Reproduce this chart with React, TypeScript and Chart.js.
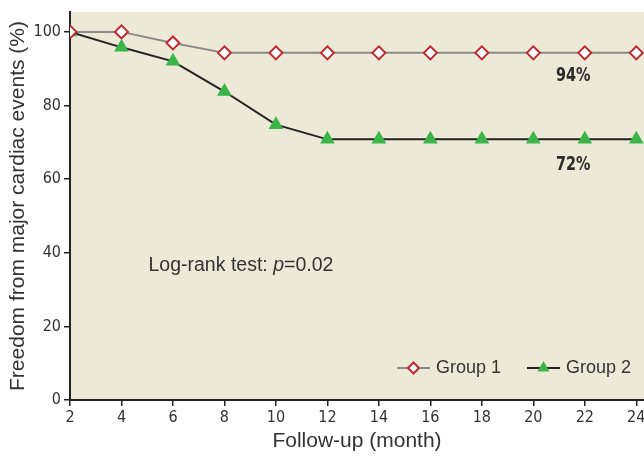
import React, { useEffect, useRef } from "react";
import { Chart, registerables } from "chart.js";

Chart.register(...registerables);

const months = [2, 4, 6, 8, 10, 12, 14, 16, 18, 20, 22, 24];
const group1 = [100, 100, 97, 94.3, 94.3, 94.3, 94.3, 94.3, 94.3, 94.3, 94.3, 94.3];
const group2 = [100, 95.8, 92, 83.8, 74.8, 70.8, 70.8, 70.8, 70.8, 70.8, 70.8, 70.8];
const yTicks = [0, 20, 40, 60, 80, 100];
const seriesNames = ["Group 1", "Group 2"];
const endLabels = [
  { text: "94%", x: 21.55, y: 88 },
  { text: "72%", x: 21.55, y: 63.8 },
];
const testLabel = { pre: "Log-rank test: ", italic: "p", post: "=0.02", x: 5.05, y: 36.5 };

const BG = "#ECE9D6";
const TEXT = "#333333";
const SANS = "'Liberation Sans', Arial, sans-serif";
const NARROW = "'DejaVu Sans Condensed', 'Liberation Sans Narrow', sans-serif";

const customPlugin = {
  id: "custom",
  beforeDraw(chart: any) {
    const { ctx, chartArea } = chart;
    ctx.save();
    ctx.fillStyle = BG;
    ctx.fillRect(chartArea.left, chartArea.top, chartArea.right - chartArea.left, chartArea.bottom - chartArea.top);
    ctx.restore();
  },
  afterDraw(chart: any) {
    const { ctx } = chart;
    const xs = chart.scales.x;
    const ys = chart.scales.y;
    ctx.save();
    ctx.fillStyle = "#2a2a2a";
    ctx.font = `bold 20px ${NARROW}`;
    ctx.textAlign = "center";
    ctx.textBaseline = "middle";
    endLabels.forEach((l) => {
      const x = xs.getPixelForValue(l.x);
      const y = ys.getPixelForValue(l.y);
      ctx.save();
      ctx.translate(x, y);
      ctx.scale(0.8, 1);
      ctx.fillText(l.text, 0, 0);
      ctx.restore();
    });
    ctx.fillStyle = TEXT;
    let px = xs.getPixelForValue(testLabel.x);
    const py = ys.getPixelForValue(testLabel.y);
    ctx.textAlign = "left";
    ctx.font = `19.5px ${SANS}`;
    ctx.fillText(testLabel.pre, px, py);
    px += ctx.measureText(testLabel.pre).width;
    ctx.font = `italic 19.5px ${SANS}`;
    ctx.fillText(testLabel.italic, px, py);
    px += ctx.measureText(testLabel.italic).width;
    ctx.font = `19.5px ${SANS}`;
    ctx.fillText(testLabel.post, px, py);

    // legend
    const ly = chart.chartArea.bottom - 32;
    let lx = chart.chartArea.right - 247;
    chart.data.datasets.forEach((ds: any, i: number) => {
      ctx.strokeStyle = ds.borderColor;
      ctx.lineWidth = 2;
      ctx.beginPath();
      ctx.moveTo(lx, ly);
      ctx.lineTo(lx + 33, ly);
      ctx.stroke();
      ctx.fillStyle = ds.pointBackgroundColor;
      ctx.strokeStyle = ds.pointBorderColor;
      ctx.lineWidth = ds.pointBorderWidth;
      const cx = lx + 16.5;
      const r = i === 0 ? 5.5 : 7;
      ctx.beginPath();
      if (ds.pointStyle === "rectRot") {
        ctx.moveTo(cx - r, ly);
        ctx.lineTo(cx, ly - r);
        ctx.lineTo(cx + r, ly);
        ctx.lineTo(cx, ly + r);
        ctx.closePath();
        ctx.fill();
        ctx.stroke();
      } else {
        ctx.moveTo(cx, ly - r);
        ctx.lineTo(cx + r * 0.866, ly + r / 2);
        ctx.lineTo(cx - r * 0.866, ly + r / 2);
        ctx.closePath();
        ctx.fill();
      }
      ctx.fillStyle = TEXT;
      ctx.font = `18px ${SANS}`;
      ctx.textAlign = "left";
      ctx.textBaseline = "middle";
      ctx.fillText(seriesNames[i], lx + 39, ly);
      lx += 130;
    });
    ctx.restore();
  },
};

export default function App() {
  const ref = useRef<HTMLCanvasElement>(null);
  useEffect(() => {
    document.body.style.margin = "0";
    const chart = new Chart(ref.current!, {
      type: "line",
      data: {
        datasets: [
          {
            label: seriesNames[0],
            data: months.map((m, i) => ({ x: m, y: group1[i] })),
            borderColor: "#8a8a8a",
            borderWidth: 2,
            pointStyle: "rectRot",
            pointRadius: 6.5,
            pointBackgroundColor: "#ffffff",
            pointBorderColor: "#C0262D",
            pointBorderWidth: 2,
          } as any,
          {
            label: seriesNames[1],
            data: months.map((m, i) => ({ x: m, y: group2[i] })),
            borderColor: "#222222",
            borderWidth: 2,
            pointStyle: "triangle",
            pointRadius: 8.5,
            pointBackgroundColor: "#3BB54A",
            pointBorderColor: "#3BB54A",
            pointBorderWidth: 0,
          } as any,
        ],
      },
      options: {
        animation: false,
        responsive: false,
        layout: { autoPadding: false, padding: { top: 12, right: 0, left: 0, bottom: 0 } },
        plugins: { legend: { display: false }, tooltip: { enabled: false } },
        scales: {
          x: {
            type: "linear",
            min: 2,
            max: 24.3,
            afterBuildTicks: (s: any) => {
              s.ticks = months.map((m) => ({ value: m }));
            },
            afterFit: (s: any) => {
              s.height = 56;
              s.paddingLeft = 0;
              s.paddingRight = 0;
            },
            grid: { drawOnChartArea: false, tickLength: 6, color: "#222", lineWidth: 1.5 },
            border: { color: "#222", width: 2 },
            ticks: {
              autoSkip: false,
              maxRotation: 0,
              color: TEXT,
              padding: 2,
              font: { family: NARROW, size: 16 },
            },
            title: {
              display: true,
              text: "Follow-up (month)",
              color: TEXT,
              font: { family: SANS, size: 21 },
              padding: { top: 0, bottom: 2 },
            },
          },
          y: {
            type: "linear",
            min: 0,
            max: 105.4,
            afterBuildTicks: (s: any) => {
              s.ticks = yTicks.map((v) => ({ value: v }));
            },
            afterFit: (s: any) => {
              s.width = 70;
              s.paddingTop = 0;
              s.paddingBottom = 0;
            },
            grid: { drawOnChartArea: false, tickLength: 6, color: "#222", lineWidth: 1.5 },
            border: { color: "#222", width: 2 },
            ticks: {
              color: TEXT,
              padding: 3,
              font: { family: NARROW, size: 16 },
            },
            title: {
              display: true,
              text: "Freedom from major cardiac events (%)",
              color: TEXT,
              font: { family: SANS, size: 21 },
              padding: { top: 6, bottom: 0 },
            },
          },
        },
      },
      plugins: [customPlugin],
    });
    return () => chart.destroy();
  }, []);
  return <canvas ref={ref} width={644} height={456} style={{ display: "block" }} />;
}
